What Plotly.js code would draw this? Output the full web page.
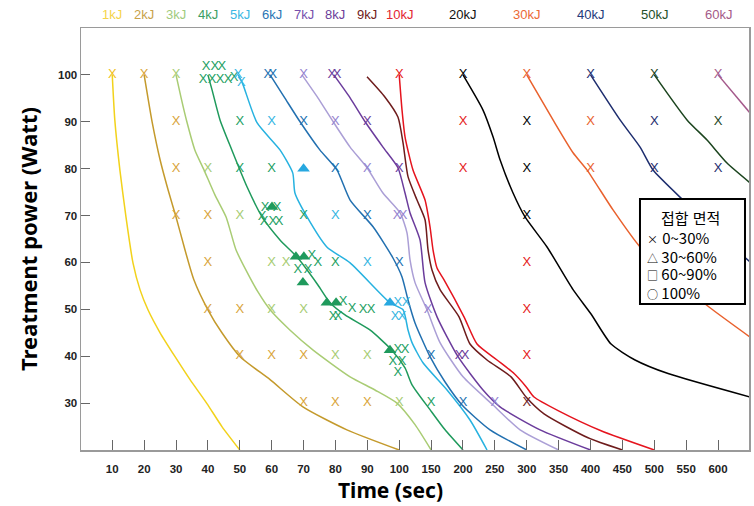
<!DOCTYPE html>
<html lang="ko">
<head>
    <meta charset="UTF-8">
    <style>
        html, body, #plot {
            width: 754px;
            height: 506px;
            margin: 0;
            padding: 0;
            overflow: hidden;
            background: #ffffff;
        }
    </style>
</head>
<body>
<div id="plot"></div>
<script src="https://cdn.plot.ly/plotly-3.0.1.min.js"></script>
<script>
    // axis ticks (time axis is 10 s steps up to 100, then 50 s steps)
    const xTickVals = [10, 20, 30, 40, 50, 60, 70, 80, 90, 100, 150, 200, 250, 300, 350, 400, 450, 500, 550, 600];
    const yTickVals = [30, 40, 50, 60, 70, 80, 90, 100];

    // energy levels and where their label sits on the time axis
    const energyNames = ['1kJ', '2kJ', '3kJ', '4kJ', '5kJ', '6kJ', '7kJ', '8kJ', '9kJ', '10kJ', '20kJ', '30kJ', '40kJ', '50kJ', '60kJ'];
    const energyLabelTimes = [10, 20, 30, 40, 50, 60, 70, 80, 90, 100, 200, 300, 400, 500, 600];

    // iso-energy curves (time in sec, power in W)
    const time1kJ = [10, 10.8, 12.4, 14.3, 16.5, 18.7, 21.2, 25.0, 29.7, 34.4, 39.7, 44.4, 50];
    const power1kJ = [100, 90.4, 79.7, 69.7, 59.9, 54.2, 49.9, 45.0, 39.9, 35.0, 29.9, 25.0, 20];
    const time2kJ = [20, 21.2, 22.5, 25, 27.5, 30, 32.8, 35.6, 40, 44.4, 50.1, 59.5, 69.8, 83.6, 100];
    const power2kJ = [100, 95.1, 90, 81.9, 75.5, 69.7, 62.7, 56.3, 49.9, 45, 39.9, 35, 29.2, 24.3, 20];
    const time3kJ = [30, 31.6, 33.4, 35.9, 38.8, 42.2, 45.7, 48.8, 51.9, 55.7, 59.5, 65.7, 73.0, 84.6, 92.4, 99.3, 124.8, 150];
    const power3kJ = [100, 95.1, 90, 84, 79.7, 74.4, 69.7, 62.7, 58.4, 53.7, 49.9, 45.6, 41.3, 35.6, 32.8, 30, 25.4, 20];
    const time4kJ = [40, 41.3, 43.8, 47.5, 52.3, 57, 62.6, 67.9, 74.5, 78.3, 83, 90.8, 97.7, 109.1, 120.1, 148.3, 171.9, 200];
    const power4kJ = [100, 96.8, 90.4, 84, 76.1, 69.7, 64.8, 61.2, 55.2, 51.4, 48.8, 45.6, 41.3, 37.5, 33.9, 28.6, 24.3, 20];
    const time5kJ = [49.5, 50.8, 55.4, 62.6, 66.6, 67.3, 71.1, 77.3, 84.6, 97.1, 106, 113.8, 120.1, 137.3, 175, 211, 237.7];
    const power5kJ = [100, 98.3, 89.8, 84, 79.1, 74.8, 69.7, 63.3, 59.9, 51.4, 49.9, 45.6, 42.9, 38.6, 32.8, 26.4, 20];
    const time6kJ = [59.5, 64.1, 68.9, 75.1, 80.5, 84.6, 91.8, 98, 104.4, 113.8, 124.8, 148.3, 171.9, 198.5, 242.4, 300];
    const power6kJ = [100, 95.1, 90, 84, 79.7, 73.3, 67.6, 61, 56.9, 52, 47.1, 39.9, 34.5, 29.6, 24.3, 20];
    const time7kJ = [69.5, 74.5, 79.3, 84.6, 89.9, 94.9, 101.3, 112.2, 116.9, 124.8, 143.6, 164, 200.1, 247.1, 289.5, 350];
    const power7kJ = [100, 95.1, 90, 84.6, 80.2, 74.8, 70.6, 66.3, 60.6, 55.7, 49.9, 42.9, 35.6, 29.6, 24.3, 20];
    const time8kJ = [79.5, 84.6, 89.3, 94.9, 99.6, 109.1, 116.9, 132.6, 140.5, 159.3, 192.2, 231.4, 258.1, 320.9, 400];
    const power8kJ = [100, 95.1, 90, 84.6, 80.2, 74.8, 70.6, 64.8, 55.7, 48.4, 39.9, 32.8, 29.2, 24.3, 20];
    const time9kJ = [89.9, 95.5, 99.6, 106, 113.8, 127.9, 140.5, 145.2, 151.4, 164, 193.8, 211, 237.7, 275.4, 298.9, 327.1, 396.1, 450];
    const power9kJ = [99.6, 95.3, 91, 85.5, 78.3, 73.3, 69.1, 62.7, 58.4, 54.2, 48.4, 42.6, 39.2, 35.6, 31.3, 27.7, 22.6, 20];
    const time10kJ = [100, 104.4, 109.1, 121.6, 140.5, 148.3, 153, 159.3, 170.3, 201.6, 222, 253.4, 280.1, 298.9, 311.4, 349.1, 416.5, 500];
    const power10kJ = [100, 92.5, 86.8, 79.7, 73.3, 67.6, 62.7, 58.8, 56.3, 48.4, 42.6, 39.2, 36.3, 33.5, 31.3, 28.4, 24.1, 20];
    const time20kJ = [200, 231.4, 247.1, 258.1, 278.5, 297.3, 331.8, 372.6, 400.8, 432.2, 469.8, 521.6, 650];
    const power20kJ = [100, 92.5, 86.8, 81.9, 74.8, 69.7, 63.3, 54.2, 49, 42.6, 39.2, 36.3, 31.3];
    const time30kJ = [300, 341.2, 372.6, 394.6, 435.3, 477.7, 524.7, 585.8, 650];
    const power30kJ = [100, 90.4, 83.4, 79.7, 71.2, 63.3, 57.4, 50.5, 44.1];
    const time40kJ = [400, 446.3, 477.7, 498.1, 545.1, 603, 650];
    const power40kJ = [100, 90.4, 84.6, 79.7, 73.3, 65.9, 60.1];
    const time50kJ = [500, 551.3, 582.7, 614, 650];
    const power50kJ = [100, 90.4, 86.1, 81.2, 77];
    const time60kJ = [600, 650];
    const power60kJ = [100, 91.9];

    // trials with 0~30% bonded area (X marks)
    const xTime1kJ = [10];
    const xPower1kJ = [100];
    const xTime2kJ = [20, 30, 30, 30, 40, 40, 40, 50, 50, 60, 70, 70, 80, 90];
    const xPower2kJ = [100, 90, 80, 70, 70, 60, 50, 50, 40, 40, 40, 30, 30, 30];
    const xTime3kJ = [30, 40, 50, 60, 64.5, 60, 70, 80, 90, 100];
    const xPower3kJ = [100, 80, 70, 60, 60, 50, 50, 40, 40, 30];
    const xTime4kJ = [39.4, 42.2, 44.4, 38.5, 41.3, 43.8, 46.3, 48.2, 50, 50, 60,
        57.9, 61.7, 57, 57.6, 60.4, 62.3, 70,
        72.6, 68.2, 71.4, 74.5, 80,
        82.4, 85.2, 88.7, 91.2, 79.3, 80.8,
        99.6, 109.1, 98, 104.4, 99.6, 150];
    const xPower4kJ = [101.7, 101.7, 101.7, 98.9, 98.9, 98.9, 98.9, 99.4, 90, 80, 80,
        71.6, 71.6, 69.7, 68.6, 68.6, 68.6, 70,
        61.4, 58.4, 58.4, 59.9, 60,
        51.6, 50.1, 49.9, 49.9, 48.4, 48.4,
        41.3, 41.3, 38.8, 38.8, 36.5, 30];
    const xTime5kJ = [49.5, 50.5, 60, 80, 90, 99.6, 110.7, 98.7, 104.4];
    const xPower5kJ = [100, 98.3, 90, 70, 60, 51.4, 51.4, 48.4, 48.4];
    const xTime6kJ = [58.8, 60.4, 70, 80, 90, 100, 150, 200];
    const xPower6kJ = [100, 100, 90, 80, 70, 60, 40, 30];
    const xTime7kJ = [70, 80, 90, 99.3, 106, 145.2, 250];
    const xPower7kJ = [100, 90, 80, 70, 70, 50, 30];
    const xTime8kJ = [78.9, 80.5, 90, 100, 193.8, 203.2];
    const xPower8kJ = [100, 100, 90, 80, 40, 40];
    const xTime9kJ = [300];
    const xPower9kJ = [30];
    const xTime10kJ = [100, 200, 200, 300, 300, 300];
    const xPower10kJ = [100, 90, 80, 60, 50, 40];
    const xTime20kJ = [200, 300, 300, 300];
    const xPower20kJ = [100, 90, 80, 70];
    const xTime30kJ = [300, 400, 400];
    const xPower30kJ = [100, 90, 80];
    const xTime40kJ = [400, 500, 500, 600];
    const xPower40kJ = [100, 90, 80, 80];
    const xTime50kJ = [500, 600];
    const xPower50kJ = [100, 90];
    const xTime60kJ = [600];
    const xPower60kJ = [100];

    // trials with 30~60% bonded area (triangles)
    const triTime4kJ = [60.1, 67.6, 70.1, 69.8, 77.3, 80.2, 97.1];
    const triPower4kJ = [71.8, 61.2, 61.2, 55.7, 51.4, 51.4, 41.3];
    const triTime5kJ = [70, 97.1];
    const triPower5kJ = [80, 51.4];

    // colours per energy level
    const lineColors = ['#f2d21b', '#c49a2c', '#a9cc74', '#1f9a5c', '#27b2e0', '#2270b0', '#ab9fd6', '#6b3c9c',
        '#6e1c1c', '#e5141e', '#000000', '#e9612d', '#1d2d6e', '#1b441e', '#a4598b'];
    const markColors = ['#f0c020', '#d9a43a', '#a6cc72', '#22a062', '#34b5e2', '#2070b0', '#9483d0', '#6b3c9c',
        '#6e1c1c', '#e52020', '#000000', '#e9612d', '#1d2d6e', '#1b441e', '#a4598b'];
    const labelColors = ['#f5d44a', '#c8a24a', '#9fcb7d', '#3a9e63', '#3ab7e3', '#2a74b4', '#7650ac', '#6b3d9a',
        '#702020', '#e32430', '#111111', '#ec6a36', '#243a7a', '#24502a', '#a45a88'];

    // time axis is piecewise: 10 s per step below 100 s, 50 s per step above
    function pos(t) {
        return t <= 100 ? t / 10 - 1 : 9 + (t - 100) / 50;
    }

    function createPlot() {
        const curveTimes = [time1kJ, time2kJ, time3kJ, time4kJ, time5kJ, time6kJ, time7kJ, time8kJ,
            time9kJ, time10kJ, time20kJ, time30kJ, time40kJ, time50kJ, time60kJ];
        const curvePowers = [power1kJ, power2kJ, power3kJ, power4kJ, power5kJ, power6kJ, power7kJ, power8kJ,
            power9kJ, power10kJ, power20kJ, power30kJ, power40kJ, power50kJ, power60kJ];
        const markTimes = [xTime1kJ, xTime2kJ, xTime3kJ, xTime4kJ, xTime5kJ, xTime6kJ, xTime7kJ, xTime8kJ,
            xTime9kJ, xTime10kJ, xTime20kJ, xTime30kJ, xTime40kJ, xTime50kJ, xTime60kJ];
        const markPowers = [xPower1kJ, xPower2kJ, xPower3kJ, xPower4kJ, xPower5kJ, xPower6kJ, xPower7kJ, xPower8kJ,
            xPower9kJ, xPower10kJ, xPower20kJ, xPower30kJ, xPower40kJ, xPower50kJ, xPower60kJ];

        const data = [];

        // curves
        energyNames.forEach(function(name, i) {
            data.push({
                x: curveTimes[i].map(pos),
                y: curvePowers[i],
                type: 'scatter',
                mode: 'lines',
                name: name,
                line: { color: lineColors[i], width: 1.5, shape: 'spline', smoothing: 0.6 },
                hoverinfo: 'skip'
            });
        });

        // X marks drawn as letters
        energyNames.forEach(function(name, i) {
            data.push({
                x: markTimes[i].map(pos),
                y: markPowers[i],
                type: 'scatter',
                mode: 'text',
                text: markTimes[i].map(function() { return 'X'; }),
                textposition: 'middle center',
                textfont: { family: 'Liberation Sans, Arial, sans-serif', size: 13, color: markColors[i] },
                hoverinfo: 'skip'
            });
        });

        // triangles
        data.push({
            x: triTime4kJ.map(pos),
            y: triPower4kJ,
            type: 'scatter',
            mode: 'markers',
            marker: { symbol: 'triangle-up', size: 11, color: '#1f9a5c' },
            hoverinfo: 'skip'
        });
        data.push({
            x: triTime5kJ.map(pos),
            y: triPower5kJ,
            type: 'scatter',
            mode: 'markers',
            marker: { symbol: 'triangle-up', size: 11, color: '#27a8e0' },
            hoverinfo: 'skip'
        });

        // energy labels above the frame
        const annotations = energyNames.map(function(name, i) {
            return {
                x: pos(energyLabelTimes[i]),
                xref: 'x',
                y: 1.031,
                yref: 'paper',
                text: name,
                showarrow: false,
                yanchor: 'middle',
                font: { family: 'Liberation Sans, Arial, sans-serif', size: 13, color: labelColors[i] }
            };
        });

        // x title sits a bit left of centre in the original
        annotations.push({
            x: 0.4626, xref: 'paper',
            y: -0.095, yref: 'paper',
            text: '<b>Time (sec)</b>',
            showarrow: false,
            yanchor: 'middle',
            font: { family: 'Noto Sans, sans-serif', size: 21, color: '#000000' }
        });

        // legend box contents
        const legendFont = { family: 'Noto Sans CJK KR, Noto Sans, sans-serif', size: 15, color: '#000000' };
        annotations.push({
            x: 0.9117, xref: 'paper', y: 0.552, yref: 'paper',
            text: '접합 면적', showarrow: false, xanchor: 'center', yanchor: 'middle', font: legendFont
        });
        const legendItems = ['<span style="font-size:11px">×</span> 0~30%',
            '<span style="font-size:11px">△</span> 30~60%',
            '<span style="font-size:11px">□</span> 60~90%',
            '<span style="font-size:11px">○</span> 100%'];
        const legendY = [0.5047, 0.4597, 0.4171, 0.3744];
        legendItems.forEach(function(txt, i) {
            annotations.push({
                x: 0.8443, xref: 'paper', y: legendY[i], yref: 'paper',
                text: txt, showarrow: false, xanchor: 'left', yanchor: 'middle', font: legendFont
            });
        });

        const layout = {
            width: 754,
            height: 506,
            margin: { l: 81, r: 5, t: 28, b: 56, pad: 0 },
            paper_bgcolor: '#ffffff',
            plot_bgcolor: '#ffffff',
            showlegend: false,
            xaxis: {
                range: [-0.98, 19.97],
                tickvals: xTickVals.map(pos),
                ticktext: xTickVals.map(function(v) { return '<b>' + v + '</b>'; }),
                showgrid: false,
                zeroline: false,
                showline: true,
                mirror: true,
                linecolor: '#9a9a9a',
                linewidth: 1.5,
                ticks: 'inside',
                ticklen: 10,
                tickcolor: '#666666',
                ticklabelstandoff: 8,
                tickfont: { family: 'Liberation Sans, Arial, sans-serif', size: 11.5, color: '#222222' }
            },
            yaxis: {
                range: [20, 110],
                tickvals: yTickVals,
                ticktext: yTickVals.map(function(v) { return '<b>' + v + '</b>'; }),
                showgrid: false,
                zeroline: false,
                showline: true,
                mirror: true,
                linecolor: '#9a9a9a',
                linewidth: 1.5,
                ticks: 'inside',
                ticklen: 9,
                tickcolor: '#666666',
                tickfont: { family: 'Liberation Sans, Arial, sans-serif', size: 11.5, color: '#222222' },
                title: {
                    text: '<b>Treatment power (Watt)</b>',
                    standoff: 14,
                    font: { family: 'Noto Sans, sans-serif', size: 22, color: '#000000' }
                }
            },
            shapes: [
                {
                    type: 'rect',
                    xref: 'paper', yref: 'paper',
                    x0: 0.8368, x1: 0.994, y0: 0.346, y1: 0.5948,
                    fillcolor: '#ffffff',
                    line: { color: '#000000', width: 2 },
                    layer: 'above'
                }
            ],
            annotations: annotations
        };

        const config = { displayModeBar: false, staticPlot: true };

        Plotly.newPlot('plot', data, layout, config);
    }

    document.addEventListener('DOMContentLoaded', function() {
        createPlot();
    });
</script>
</body>
</html>
